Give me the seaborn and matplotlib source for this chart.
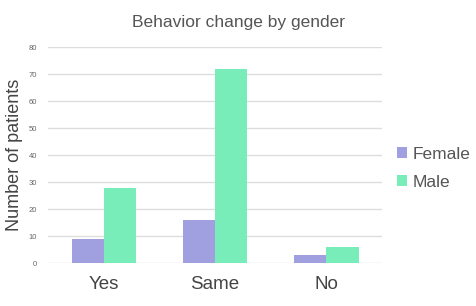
"""Grouped bar chart of behavior change by gender."""
import matplotlib.pyplot as plt
import pandas as pd
import seaborn as sns

categories = ["Yes", "Same", "No"]
female = [9, 16, 3]
male = [28, 72, 6]

df = pd.DataFrame({
    "answer": categories * 2,
    "gender": ["Female"] * 3 + ["Male"] * 3,
    "count": female + male,
})

sns.set_style("white")
plt.rcParams["font.family"] = ["Liberation Sans", "DejaVu Sans"]

fig = plt.figure(figsize=(4.77, 3.06), dpi=100)
ax = fig.add_axes([0.101, 0.14, 0.70, 0.706])
sns.barplot(data=df, x="answer", y="count", hue="gender", ax=ax,
            palette=["#a09fdf", "#78edb9"], width=0.58, saturation=1,
            edgecolor="none", legend=True)

ax.set_ylim(0, 80)
ax.set_yticks(range(0, 81, 10))
ax.grid(axis="y", color="#dddddd", linewidth=1)
ax.set_axisbelow(True)
for s in ax.spines.values():
    s.set_visible(False)
ax.tick_params(axis="y", labelsize=5.5, labelcolor="#666666", length=0, pad=8)
ax.tick_params(axis="x", labelsize=13.5, labelcolor="#444444", length=0, pad=9)
ax.set_xlabel("")
ax.set_ylabel("Number of patients", fontsize=13, color="#444444", labelpad=4)
fig.text(0.5, 0.925, "Behavior change by gender", fontsize=12.5,
         color="#555555", ha="center", va="center")

handles, labels = ax.get_legend_handles_labels()
ax.get_legend().remove()
fig.legend(handles, labels, loc="center left", bbox_to_anchor=(0.8, 0.45),
           frameon=False, fontsize=12.5, labelcolor="#555555",
           handlelength=0.55, handleheight=0.55, handletextpad=0.35,
           labelspacing=0.75)

fig.savefig("out.png", dpi=100)
